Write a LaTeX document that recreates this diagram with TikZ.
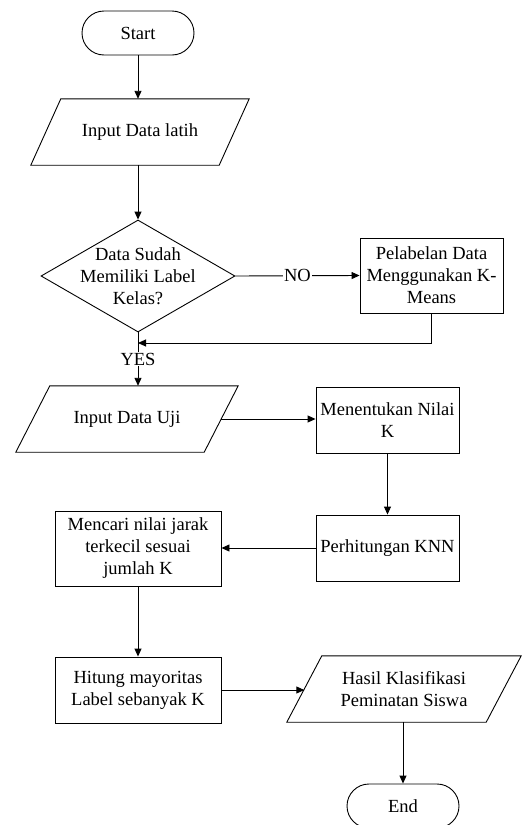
\documentclass[tikz,border=0pt]{standalone}
\usepackage{fontspec}
\setmainfont{Liberation Serif}
\usetikzlibrary{shapes.geometric,arrows.meta}

\begin{document}
\begin{tikzpicture}[x=1pt,y=-1pt,
  font=\fontsize{18.5}{22}\selectfont,
  every node/.style={align=center, inner sep=2pt},
  base/.style={draw, line width=0.9pt},
  terminal/.style={base, rectangle, rounded corners=22pt,
    minimum width=112pt, minimum height=44pt},
  procbox/.style={base, rectangle, minimum height=66pt},
  iobox/.style={rectangle, minimum height=66pt},
  decision/.style={base, diamond, minimum width=194pt, minimum height=112pt},
  flow/.style={line width=0.9pt, -{Triangle[length=8pt,width=7pt]}},
  outline/.style={line width=0.9pt, line join=miter},
  tag/.style={fill=white, inner sep=1pt},
]
\useasboundingbox (0,0) rectangle (522,825);
\clip (0,0) rectangle (522,825);

% nodes
\node[terminal] (start) at (138,33) {Start};
\node[iobox, minimum width=188pt] (latih) at (140,132) {Input Data latih};
\node[decision, label={[align=center]center:Data Sudah\\Memiliki Label\\Kelas?}] (dec) at (138,276) {};
\node[procbox, minimum width=143pt, minimum height=75pt] (label) at (431.5,275.5)
  {Pelabelan Data\\Menggunakan K-\\Means};
\coordinate (join) at (138,343);
\node[iobox, minimum width=188pt] (uji) at (127,419) {Input Data Uji};
\node[procbox, minimum width=143pt] (nilai) at (387.5,420) {Menentukan Nilai\\K};
\node[procbox, minimum width=143pt] (knn) at (387.5,548) {Perhitungan KNN};
\node[procbox, minimum width=166pt, minimum height=75pt] (jarak) at (138,548.5)
  {Mencari nilai jarak\\terkecil sesuai\\jumlah K};
\node[procbox, minimum width=166pt] (hitung) at (138,690)
  {Hitung mayoritas\\Label sebanyak K};
\node[iobox, minimum width=199pt] (hasil) at (404,689)
  {Hasil Klasifikasi\\Peminatan Siswa};
\node[terminal] (end) at (403,806) {End};

% parallelogram outlines of the input/output nodes
\draw[outline] ([xshift=15pt]latih.north west) -- ([xshift=15pt]latih.north east)
  -- ([xshift=-15pt]latih.south east) -- ([xshift=-15pt]latih.south west) -- cycle;
\draw[outline] ([xshift=17pt]uji.north west) -- ([xshift=17pt]uji.north east)
  -- ([xshift=-17pt]uji.south east) -- ([xshift=-17pt]uji.south west) -- cycle;
\draw[outline] ([xshift=17.5pt]hasil.north west) -- ([xshift=17.5pt]hasil.north east)
  -- ([xshift=-17.5pt]hasil.south east) -- ([xshift=-17.5pt]hasil.south west) -- cycle;

% connectors
\draw[flow] (start) -- (start |- latih.north);
\draw[flow] (latih.south -| start) -- (dec.north);
\draw[flow] (dec.east) -- node[tag] {NO} (label.west);
\draw[flow] (label.south) |- (join);
\draw[flow] (dec.south) -- node[tag] {YES} (dec.south |- uji.north);
\draw[flow] (uji.east) -- (uji.east -| nilai.west);
\draw[flow] (nilai) -- (knn);
\draw[flow] (knn.west) -- (knn.west -| jarak.east);
\draw[flow] (jarak) -- (hitung);
\draw[flow] (hitung.east) -- (hitung.east -| hasil.west);
\draw[flow] (end.north |- hasil.south) -- (end.north);
\end{tikzpicture}
\end{document}
